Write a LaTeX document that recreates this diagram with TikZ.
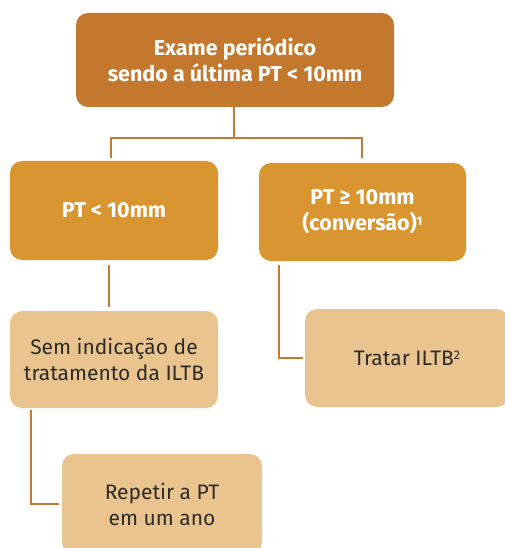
\documentclass[tikz,border=0pt]{standalone}
\usepackage{fontspec}
\setmainfont{Fira Sans}
\definecolor{cTop}{HTML}{C4782E}
\definecolor{cMid}{HTML}{D9952F}
\definecolor{cLight}{HTML}{EAC48F}
\definecolor{cLine}{HTML}{C47A35}
\definecolor{cText}{HTML}{2E2A26}
\newcommand{\supnum}[1]{\raisebox{5.5pt}{\fontsize{12.5}{12.5}\selectfont #1}}
\begin{document}
\begin{tikzpicture}[x=1pt,y=-1pt,
  box/.style={rounded corners=12pt, align=center, inner sep=0pt},
  topbox/.style={box, fill=cTop, text=white, font=\bfseries\fontsize{21.5}{26}\selectfont},
  midbox/.style={box, fill=cMid, text=white, font=\bfseries\fontsize{21.5}{26}\selectfont},
  lightbox/.style={box, fill=cLight, text=cText, font=\fontsize{21}{26}\selectfont},
  link/.style={draw=cLine, line width=1.8pt}]
\useasboundingbox (0,0) rectangle (505,548);
\begin{scope}
\clip (0,0) rectangle (505,548);
\node[topbox, minimum width=318pt, minimum height=94pt] (top) at (235,60) {Exame periódico\\sendo a última PT < 10mm};
\node[midbox, minimum width=208pt, minimum height=99pt] (lt) at (114,210.5) {PT < 10mm};
\node[midbox, minimum width=207pt, minimum height=98pt] (ge) at (362.5,212) {PT ≥ 10mm\\(conversão)\supnum{1}};
\node[lightbox, minimum width=208pt, minimum height=97pt] (sem) at (114,359.5) {Sem indicação de\\tratamento da ILTB};
\node[lightbox, minimum width=204pt, minimum height=98pt] (trat) at (407,358) {Tratar ILTB\supnum{2}};
\node[lightbox, minimum width=200pt, minimum height=100pt] (rep) at (162,504) {Repetir a PT\\em um ano};
\end{scope}
\coordinate (j) at (234,138);
\draw[link] ([yshift=3pt]top.south -| j) -- (j);
\draw[link] (111,158) -- (111,138) -- (362,138) -- (362,158);
\draw[link] (109,265) -- (109,307);
\draw[link] (279,265) -- (279,358) -- (303,358);
\draw[link] (31,410) -- (31,504) -- (59,504);
\end{tikzpicture}
\end{document}
